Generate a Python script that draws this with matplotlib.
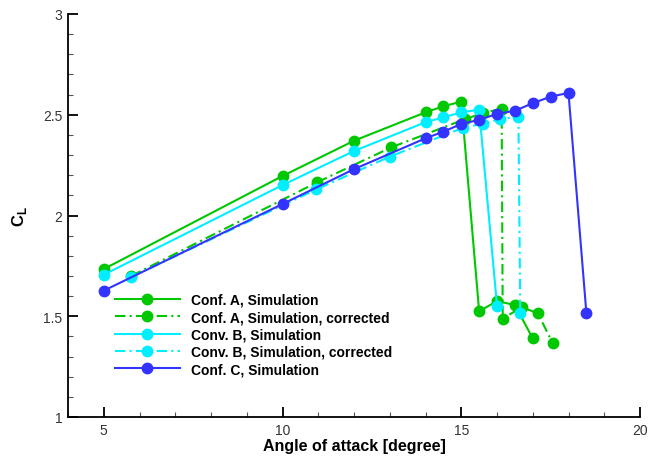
import matplotlib
matplotlib.use("Agg")
import matplotlib.pyplot as plt
from matplotlib.ticker import MultipleLocator

plt.rcParams['font.family'] = ['Liberation Sans', 'DejaVu Sans']

# ---- data ----
a_alpha = [5, 10, 12, 14, 14.5, 15, 15.5, 16, 16.5, 17]
a_cl = [1.734, 2.196, 2.371, 2.512, 2.542, 2.565, 1.525, 1.575, 1.556, 1.39]

ac_alpha = [5.77, 10.97, 13.04, 15.1, 15.62, 16.13, 16.16, 16.69, 17.14, 17.56]
ac_cl = [1.70, 2.165, 2.338, 2.478, 2.509, 2.530, 1.488, 1.545, 1.515, 1.366]

b_alpha = [5, 10, 12, 14, 14.5, 15, 15.5, 16]
b_cl = [1.706, 2.151, 2.320, 2.463, 2.487, 2.512, 2.525, 1.553]

bc_alpha = [5.75, 10.95, 13.0, 15.06, 15.6, 16.08, 16.6, 16.65]
bc_cl = [1.693, 2.130, 2.292, 2.436, 2.455, 2.478, 2.490, 1.518]

c_alpha = [5, 10, 12, 14, 14.5, 15, 15.5, 16, 16.5, 17, 17.5, 18, 18.5]
c_cl = [1.627, 2.057, 2.230, 2.383, 2.416, 2.454, 2.475, 2.504, 2.520, 2.557, 2.590, 2.608, 1.516]

labels = ["Conf. A, Simulation", "Conf. A, Simulation, corrected",
          "Conv. B, Simulation", "Conv. B, Simulation, corrected",
          "Conf. C, Simulation"]

green = "#00C800"
cyan = "#00EEFF"
blue = "#3333FF"
dashdot = (0, (5, 2, 1, 2))

fig = plt.figure(figsize=(6.6, 4.6), dpi=100)
ax = fig.add_axes([68/660, 1-418/460, (640-68)/660, (418-15)/460])

kw = dict(marker='o', markersize=7.5, linewidth=1.5)
ax.plot(a_alpha, a_cl, color=green, linestyle='-', label=labels[0], **kw)
ax.plot(ac_alpha, ac_cl, color=green, linestyle=dashdot, label=labels[1], **kw)
ax.plot(b_alpha, b_cl, color=cyan, linestyle='-', label=labels[2], **kw)
ax.plot(bc_alpha, bc_cl, color=cyan, linestyle=dashdot, label=labels[3], **kw)
ax.plot(c_alpha, c_cl, color=blue, linestyle='-', label=labels[4], **kw)

ax.set_xlim(4, 20)
ax.set_ylim(1, 3)
ax.xaxis.set_minor_locator(MultipleLocator(1))
ax.yaxis.set_minor_locator(MultipleLocator(0.1))
ax.set_xticks([5, 10, 15, 20])
ax.set_xticklabels(['5', '10', '15', '20'])
ax.set_yticks([1, 1.5, 2, 2.5, 3])
ax.set_yticklabels(['1', '1.5', '2', '2.5', '3'])

for s in ['top', 'right']:
    ax.spines[s].set_visible(False)
for s in ['left', 'bottom']:
    ax.spines[s].set_linewidth(1.3)

ax.tick_params(which='major', direction='in', length=7, width=1.3,
               labelsize=10, labelcolor='#333333', pad=4)
ax.tick_params(which='minor', direction='in', length=3.5, width=0.8, color='#555555')

ax.set_xlabel("Angle of attack [degree]", fontsize=11.5, fontweight='bold', labelpad=1)
ax.set_ylabel(r"C$_\mathregular{L}$", fontsize=12, fontweight='bold', labelpad=10)

leg = ax.legend(loc='upper left', bbox_to_anchor=(0.072, 0.322), frameon=False,
                prop={'weight': 'bold', 'size': 10}, handlelength=4.7,
                labelspacing=0.24, handletextpad=0.8, borderaxespad=0)

fig.savefig("out.png", dpi=100)
